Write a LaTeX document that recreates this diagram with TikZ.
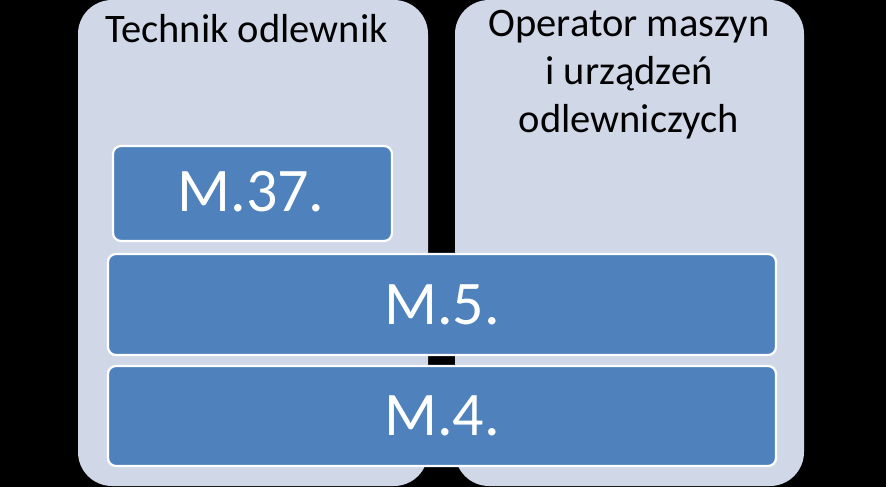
\documentclass[tikz,border=0pt]{standalone}
\usepackage{fontspec}
\setmainfont{Carlito}
\definecolor{colfill}{HTML}{D0D8E8}
\definecolor{boxfill}{HTML}{4F81BD}
\begin{document}
\begin{tikzpicture}[x=1pt,y=-1pt,
  column/.style={fill=colfill,draw=none,rounded corners=34pt},
  bluebox/.style={fill=boxfill,draw=white,line width=2.2pt,rounded corners=8pt},
  coltitle/.style={font=\fontsize{40.5}{48}\selectfont,text=black,align=center,inner sep=0pt},
  boxlabel/.style={font=\fontsize{62}{70}\selectfont,text=white,inner sep=0pt}]
\fill[black] (0,0) rectangle (886,487);
\useasboundingbox (0,0) rectangle (886,487);
% columns
\path[column] (78,0) rectangle (428,486);
\path[column] (455,0) rectangle (804,486);
\node[coltitle,anchor=base] (t1) at (246.5,43) {Technik odlewnik};
\node[coltitle,anchor=base] (t2) at (629,132) {Operator maszyn\\i urządzeń\\odlewniczych};
% boxes
\draw[bluebox] (113,146) rectangle (392,241);
\node[boxlabel] (m37) at (251,192) {M.37.};
\draw[bluebox] (108,254) rectangle (776,355);
\node[boxlabel] (m5) at (442,304.5) {M.5.};
\draw[bluebox] (108,366) rectangle (776,466);
\node[boxlabel] (m4) at (442,416) {M.4.};
\end{tikzpicture}
\end{document}
